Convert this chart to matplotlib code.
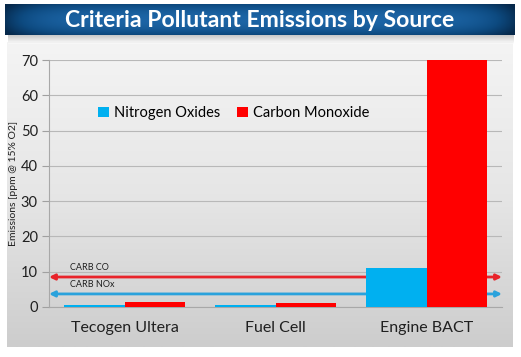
import numpy as np
import matplotlib
matplotlib.use("Agg")
import matplotlib.pyplot as plt
from matplotlib.colors import LinearSegmentedColormap

plt.rcParams['font.family'] = ['Lato', 'DejaVu Sans']

# data
sources = ["Tecogen Ultera", "Fuel Cell", "Engine BACT"]
nox = [0.5, 0.5, 11.0]
co = [1.5, 1.0, 70.0]
carb_co = 8.5
carb_nox = 3.7
y_ticks = [0, 10, 20, 30, 40, 50, 60, 70]

W, H = 521, 357
fig = plt.figure(figsize=(W / 100, H / 100), dpi=100)
fig.patch.set_facecolor("white")

# grey panel behind the chart
bg = fig.add_axes([7 / W, 10 / H, 506 / W, 305 / H])
grad = np.linspace(0, 1, 256).reshape(-1, 1)
grey = LinearSegmentedColormap.from_list("g", ["#f4f4f4", "#e6e6e6", "#cdcdcd"])
bg.imshow(grad, aspect="auto", cmap=grey, extent=[0, 1, 0, 1], origin="upper")
bg.axis("off")

# shadow under the banner
sh = fig.add_axes([8 / W, (H - 44) / H, 506 / W, 10 / H])
sgrad = np.linspace(0, 1, 40).reshape(-1, 1)
shc = LinearSegmentedColormap.from_list("s", ["#9a9a9a", "#ffffff"])
sh.imshow(sgrad, aspect="auto", cmap=shc, extent=[0, 1, 0, 1], origin="upper", alpha=0.6)
sh.axis("off")

# title banner
ban = fig.add_axes([5 / W, (H - 35) / H, 510 / W, 31 / H])
xs = np.linspace(-1, 1, 400)
ys = np.linspace(-1, 1, 60).reshape(-1, 1)
shade = (1 - 0.55 * xs ** 8) * (1 - 0.35 * np.abs(ys) ** 2)
blue = LinearSegmentedColormap.from_list("b", ["#06284a", "#0d4a80", "#1c64a5"])
ban.imshow(shade, aspect="auto", cmap=blue, extent=[0, 1, 0, 1], vmin=0.35, vmax=1)
ban.text(0.5, 0.47, "Criteria Pollutant Emissions by Source", color="white",
         fontsize=16.6, fontweight="bold", ha="center", va="center",
         transform=ban.transAxes)
ban.axis("off")

# chart
ax = fig.add_axes([49 / W, 50 / H, 453 / W, 247 / H])
ax.set_facecolor("none")
x = np.arange(len(sources))
w = 0.4
ax.bar(x - w / 2, nox, w, color="#00b0f0", label="Nitrogen Oxides", zorder=3)
ax.bar(x + w / 2, co, w, color="#ff0000", label="Carbon Monoxide", zorder=3)

ax.set_xlim(-0.5, 2.5)
ax.set_ylim(0, 70)
ax.set_yticks(y_ticks)
ax.yaxis.grid(True, color="#b8b8b8", linewidth=0.8, zorder=0)
ax.set_axisbelow(True)
ax.set_xticks(x)
ax.set_xticklabels(sources, fontsize=11.5, color="#202020")
ax.tick_params(axis="x", length=0, pad=10)
ax.tick_params(axis="y", labelsize=10.5, color="#a0a0a0", length=5, pad=3,
               labelcolor="#202020")
for s in ["top", "right"]:
    ax.spines[s].set_visible(False)
ax.spines["left"].set_color("#a8a8a8")
ax.spines["bottom"].set_color("#a8a8a8")
ax.set_ylabel("Emissions [ppm @ 15% O2]", fontsize=7.5, color="#202020", labelpad=2)

# CARB limit arrows
for val, col, txt, ty in [(carb_co, "#e8232a", "CARB CO", carb_co + 1.4),
                          (carb_nox, "#2aa2dc", "CARB NOx", carb_nox + 1.4)]:
    ax.annotate("", xy=(2.5, val), xytext=(-0.5, val),
                arrowprops=dict(arrowstyle="<|-|>", color=col, lw=2.0,
                                mutation_scale=8, shrinkA=0, shrinkB=0),
                zorder=2, annotation_clip=False)
    ax.text(-0.36, ty, txt, fontsize=6.5, color="#202020", va="bottom")

ax.legend(loc="center left", bbox_to_anchor=(0.08, 0.785), ncol=2, frameon=False,
          fontsize=10.5, handlelength=0.7, handleheight=0.7, handletextpad=0.35,
          columnspacing=1.2)

fig.savefig("out.png", dpi=100)
